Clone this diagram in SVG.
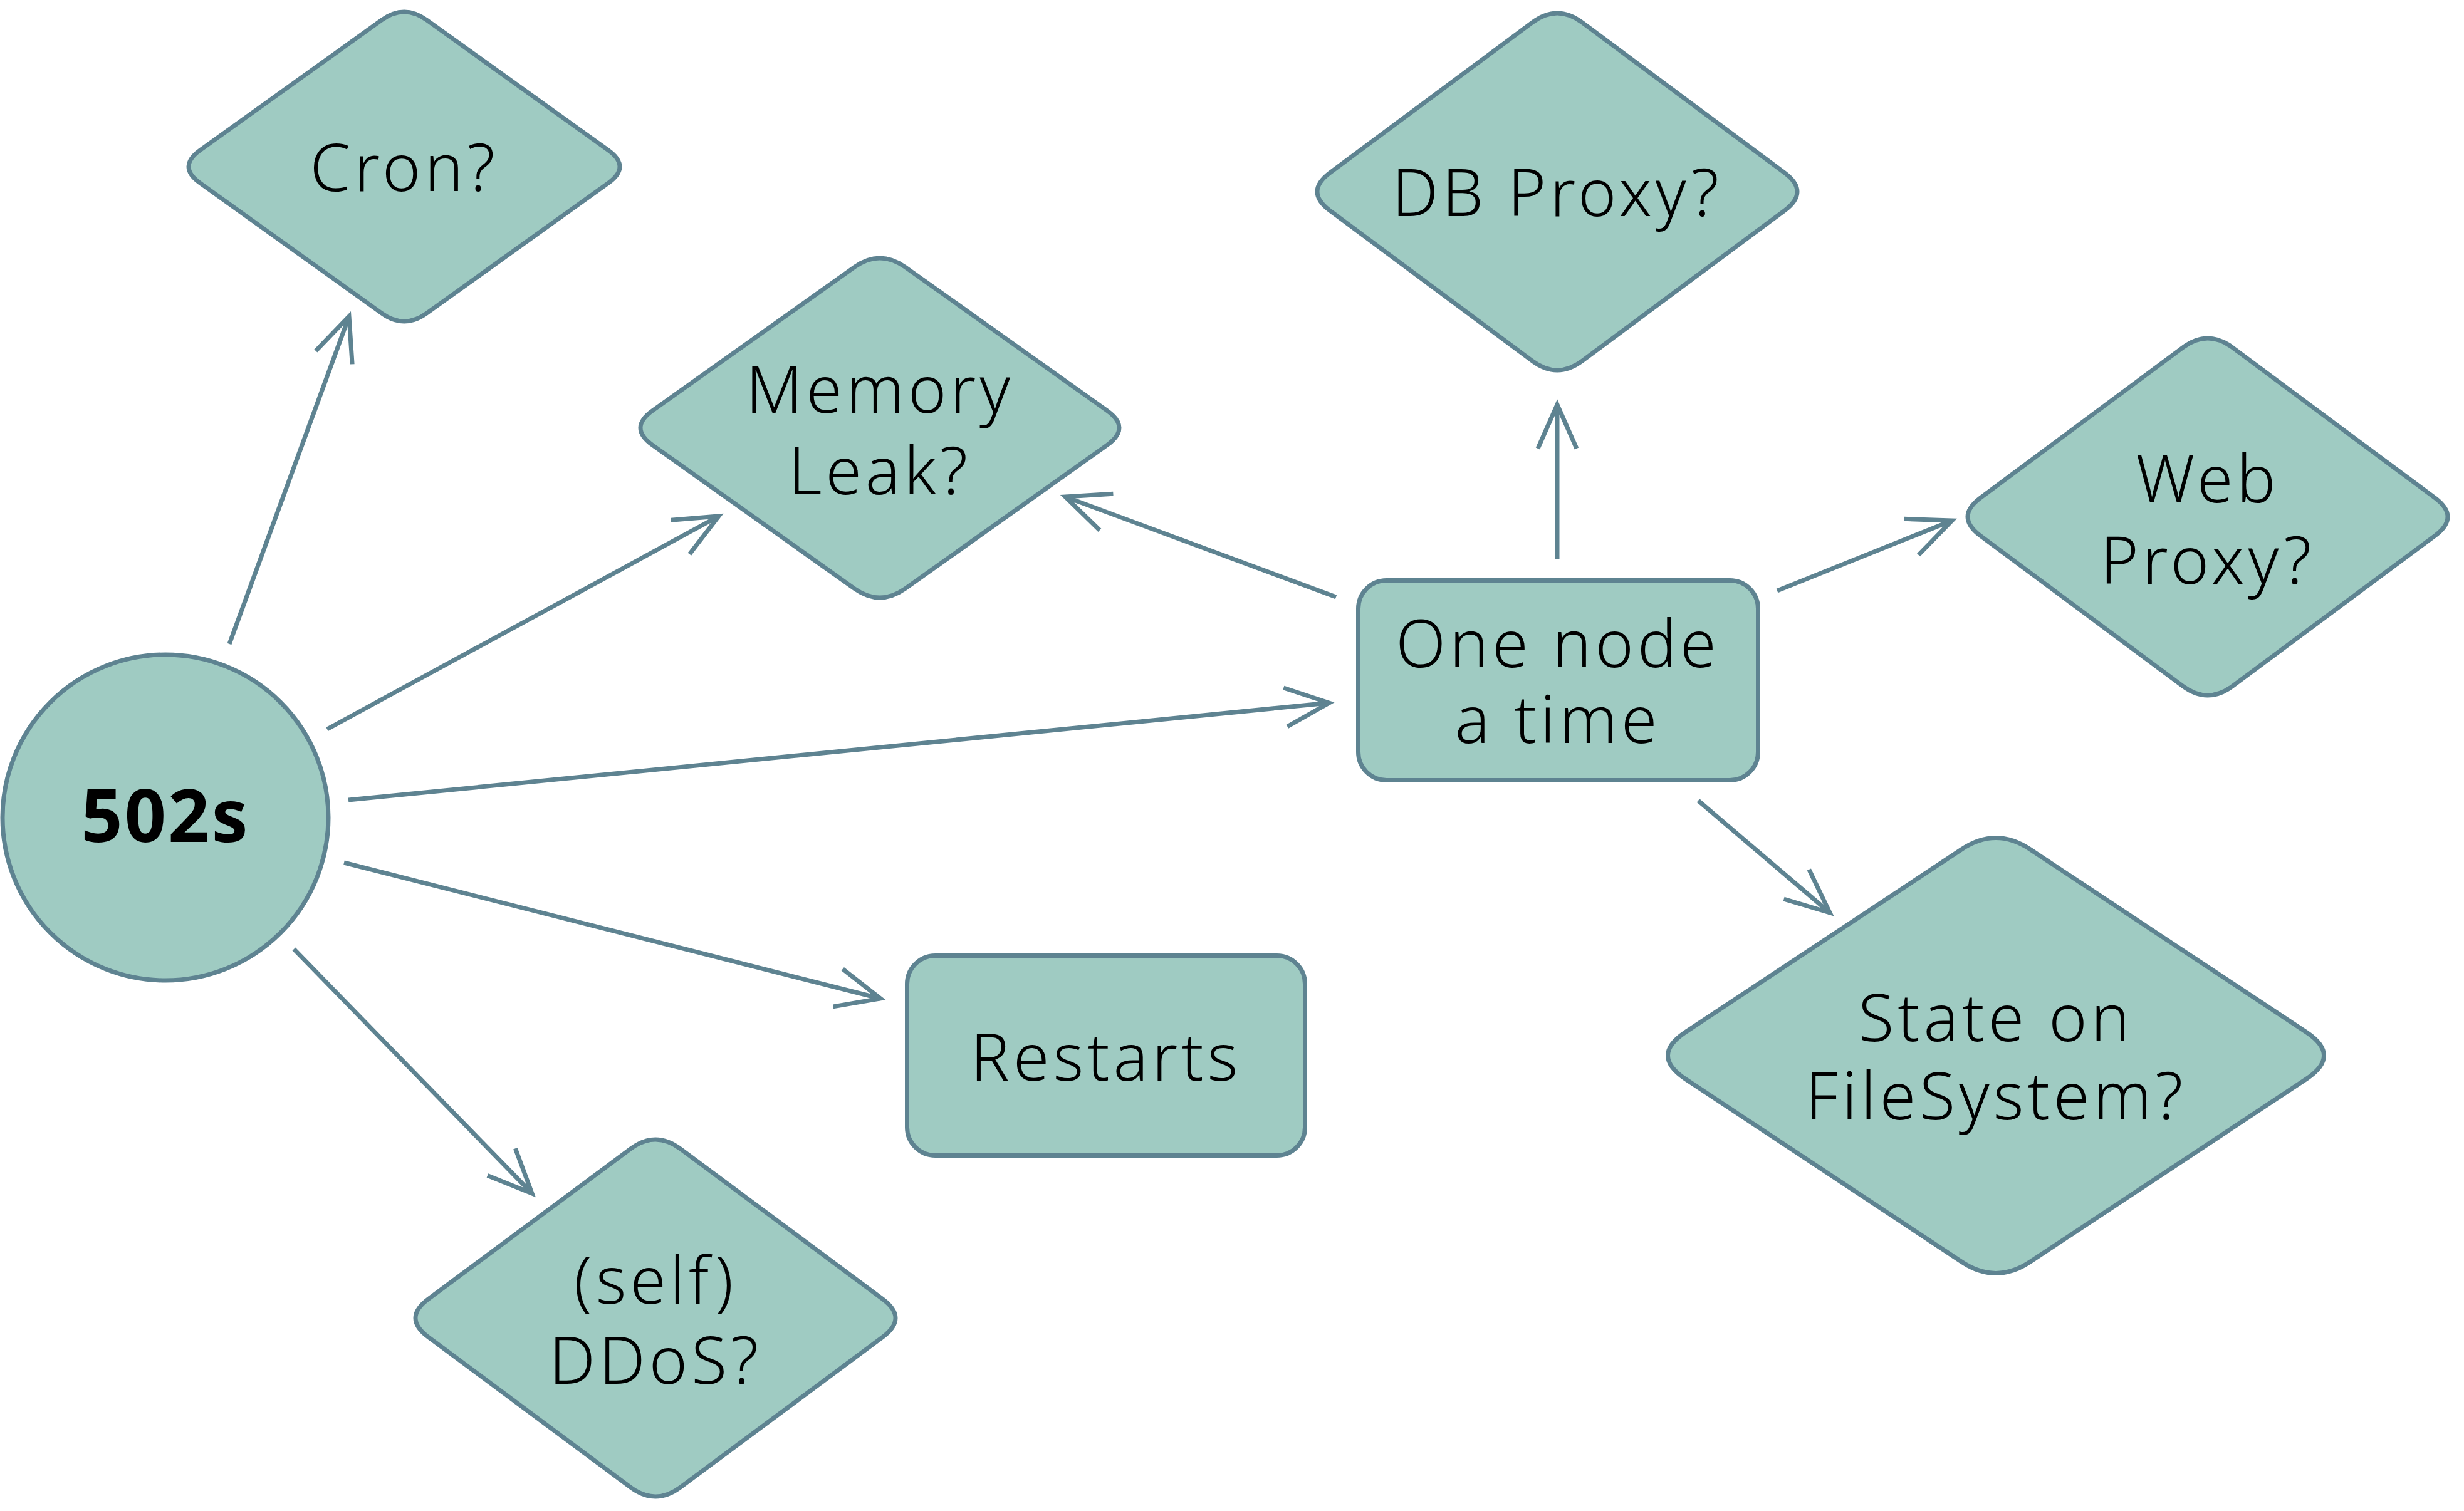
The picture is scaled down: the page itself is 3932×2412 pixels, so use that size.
<svg xmlns="http://www.w3.org/2000/svg" width="3932" height="2412" viewBox="0 0 3932 2412">
<style>
.shape{fill:#9fcbc2;stroke:#5e8391;stroke-width:7}
.edge{fill:none;stroke:#5e8391;stroke-width:7;marker-end:url(#arr)}
.lbl{font-family:"Noto Sans","Open Sans","DejaVu Sans",sans-serif;font-size:104px;font-weight:300;letter-spacing:6px;fill:#000;text-anchor:middle}
.bold{font-weight:bold;font-size:116px;letter-spacing:3px}
</style>
<defs>
<marker id="arr" markerUnits="userSpaceOnUse" markerWidth="100" markerHeight="100" viewBox="-90 -50 100 100" refX="0" refY="0" orient="auto" overflow="visible">
<path d="M -70 -31 L 0 0 L -70 31" fill="none" stroke="#5e8391" stroke-width="7"/>
</marker>
</defs>
<rect width="3932" height="2412" fill="#fff"/>
<g id="connectors">
<line class="edge" x1="366" y1="1028" x2="557" y2="505"/>
<line class="edge" x1="522" y1="1164" x2="1147" y2="824"/>
<line class="edge" x1="556" y1="1277" x2="2121" y2="1122"/>
<line class="edge" x1="549" y1="1377" x2="1405" y2="1594"/>
<line class="edge" x1="469" y1="1515" x2="849" y2="1905"/>
<line class="edge" x1="2132" y1="953" x2="1700" y2="793"/>
<line class="edge" x1="2485" y1="893" x2="2485" y2="646"/>
<line class="edge" x1="2836" y1="943" x2="3115" y2="831"/>
<line class="edge" x1="2710" y1="1278" x2="2920" y2="1457"/>
</g>
<g id="n502s">
<circle class="shape" cx="264" cy="1305" r="260"/>
<text class="lbl bold" x="264" y="1344">502s</text>
</g>
<g id="cron">
<path class="shape" d="M 681 32 L 971 240 Q 1007 266 971 292 L 681 500 Q 645 526 609 500 L 319 292 Q 283 266 319 240 L 609 32 Q 645 6 681 32 Z"/>
<text class="lbl" x="645" y="305">Cron?</text>
</g>
<g id="memory">
<path class="shape" d="M 1444 426 L 1766 655 Q 1806 683 1766 711 L 1444 940 Q 1404 968 1364 940 L 1042 711 Q 1002 683 1042 655 L 1364 426 Q 1404 398 1444 426 Z"/>
<text class="lbl" x="1404" y="659">Memory</text>
<text class="lbl" x="1404" y="789">Leak?</text>
</g>
<g id="dbproxy">
<path class="shape" d="M 2525 36 L 2848 276 Q 2888 306 2848 336 L 2525 576 Q 2485 606 2445 576 L 2122 336 Q 2082 306 2122 276 L 2445 36 Q 2485 6 2525 36 Z"/>
<text class="lbl" x="2485" y="345">DB Proxy?</text>
</g>
<g id="webproxy">
<path class="shape" d="M 3563 555 L 3886 795 Q 3926 825 3886 855 L 3563 1095 Q 3523 1125 3483 1095 L 3160 855 Q 3120 825 3160 795 L 3483 555 Q 3523 525 3563 555 Z"/>
<text class="lbl" x="3523" y="802">Web</text>
<text class="lbl" x="3523" y="932">Proxy?</text>
</g>
<g id="onenode">
<rect class="shape" x="2167.5" y="926.5" width="638" height="319" rx="45"/>
<text class="lbl" x="2486" y="1065">One node</text>
<text class="lbl" x="2486" y="1186">a time</text>
</g>
<g id="restarts">
<rect class="shape" x="1447.5" y="1525.5" width="635" height="319" rx="45"/>
<text class="lbl" x="1765" y="1725">Restarts</text>
</g>
<g id="state">
<path class="shape" d="M 3240 1356 L 3681 1648 Q 3736 1685 3681 1722 L 3240 2014 Q 3185 2051 3130 2014 L 2689 1722 Q 2634 1685 2689 1648 L 3130 1356 Q 3185 1319 3240 1356 Z"/>
<text class="lbl" x="3185" y="1662">State on</text>
<text class="lbl" x="3185" y="1787">FileSystem?</text>
</g>
<g id="ddos">
<path class="shape" d="M 1086 1834 L 1409 2074 Q 1449 2104 1409 2134 L 1086 2374 Q 1046 2404 1006 2374 L 683 2134 Q 643 2104 683 2074 L 1006 1834 Q 1046 1804 1086 1834 Z"/>
<text class="lbl" x="1046" y="2081">(self)</text>
<text class="lbl" x="1046" y="2209">DDoS?</text>
</g>
</svg>
